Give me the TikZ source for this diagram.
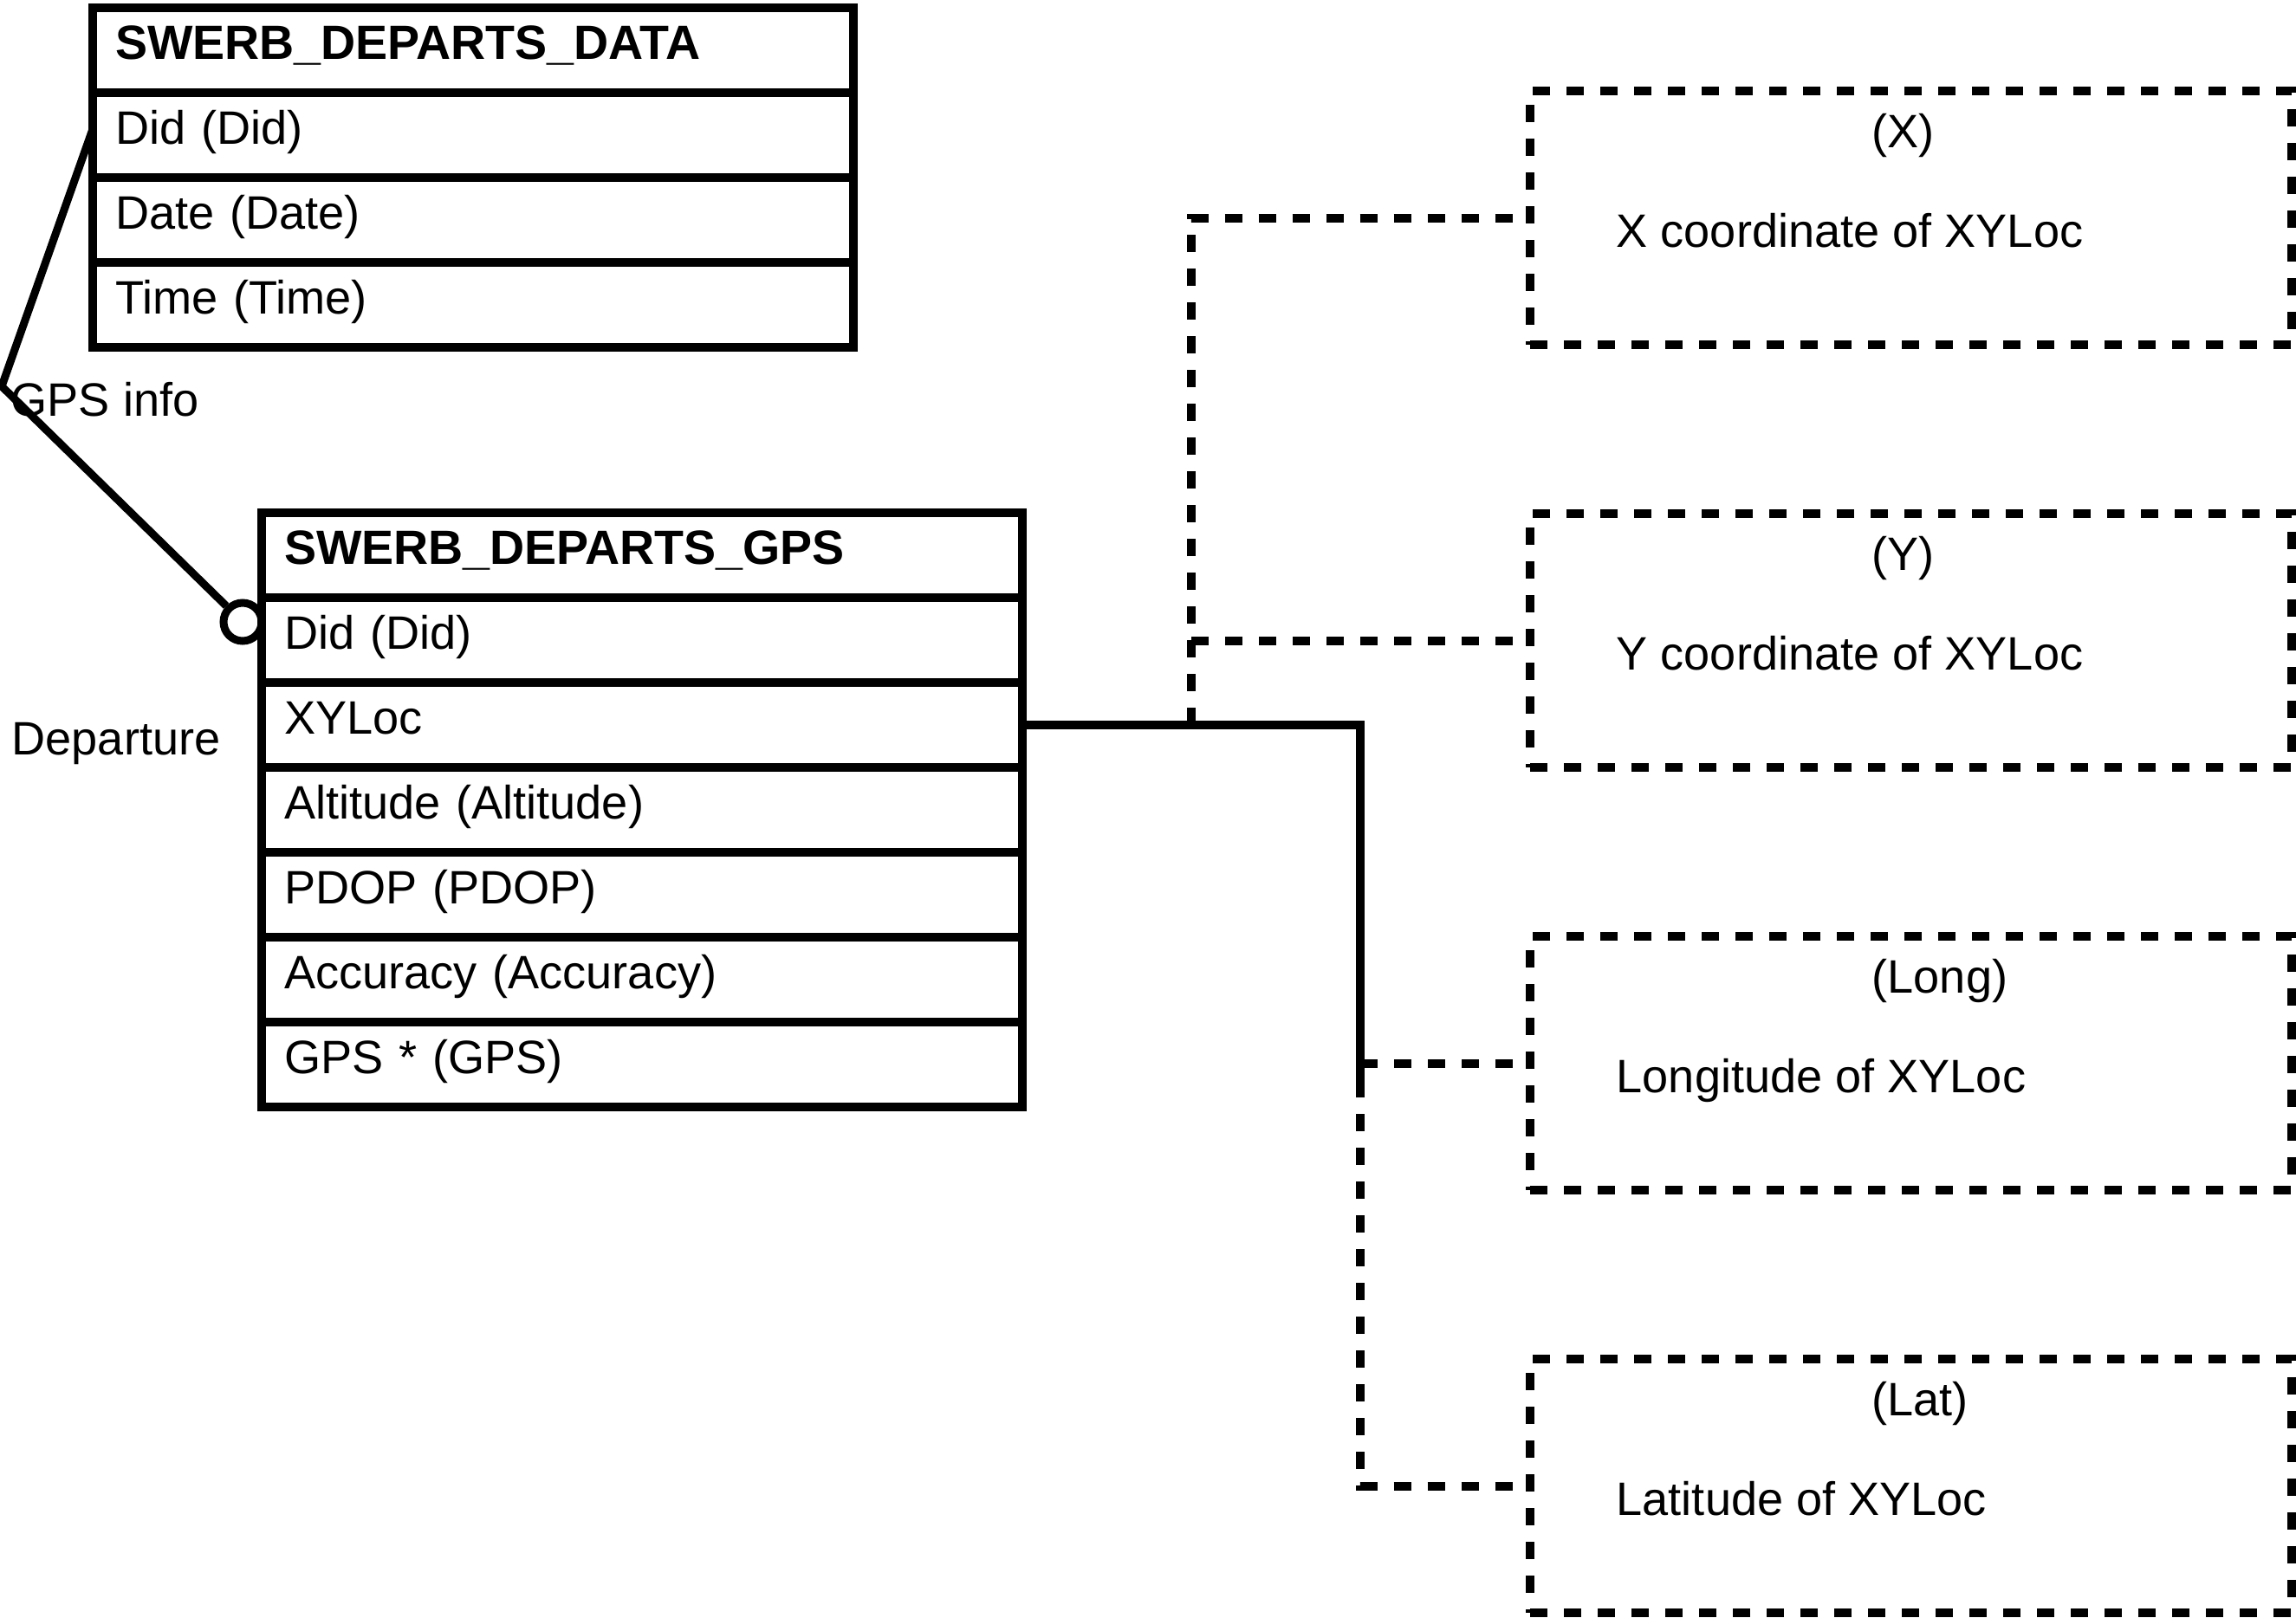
\documentclass[tikz,border=0pt]{standalone}
\usepackage{fontspec}
\setmainfont{Liberation Sans}
\usepackage{tikz}
\usetikzlibrary{positioning,calc}
\tikzstyle{line} = [draw,line width=1mm]
\tikzstyle{link} = [draw,line width=1mm,dash pattern=on 2mm off 1.9mm]

\begin{document}
\begin{tikzpicture}[auto,node distance=0pt,font=\fontsize{15.4}{18}\selectfont]
          \tikzstyle{field} = [draw, rectangle, line width=1mm, outer sep=0pt, inner xsep=2.6mm, text width=8.26cm, align=left, minimum height=9.8mm, text height=3.9mm, text depth=1.9mm]
          \tikzstyle{entity} = [field, font=\fontsize{15.8}{18}\selectfont\bfseries]
          \tikzstyle{derived} = [link, rectangle, outer sep=0pt, minimum width=8.79cm, minimum height=2.93cm]
          \tikzstyle{note} = [inner sep=0pt, anchor=base west]
          \useasboundingbox (0,0) rectangle (26.5,-18.67);
          % entity SWERB_DEPARTS_DATA
          \node[entity, anchor=north west] (dataHead) at (1.07,-0.09) {SWERB\_DEPARTS\_DATA};
          \node[field] (dataDid) [below=of dataHead] {Did (Did)};
          \node[field] (dataDate) [below=of dataDid] {Date (Date)};
          \node[field] (dataTime) [below=of dataDate] {Time (Time)};
          % entity SWERB_DEPARTS_GPS
          \node[entity, anchor=north west] (gpsHead) at (3.02,-5.92) {SWERB\_DEPARTS\_GPS};
          \node[field] (gpsDid) [below=of gpsHead] {Did (Did)};
          \node[field] (gpsXY) [below=of gpsDid] {XYLoc};
          \node[field] (gpsAlt) [below=of gpsXY] {Altitude (Altitude)};
          \node[field] (gpsPdop) [below=of gpsAlt] {PDOP (PDOP)};
          \node[field] (gpsAcc) [below=of gpsPdop] {Accuracy (Accuracy)};
          \node[field] (gpsGps) [below=of gpsAcc] {GPS * (GPS)};
          % relationship
          \node[circle, draw, line width=0.9mm, inner sep=0pt, minimum size=4.4mm] (zeroMark) at ($(gpsHead.south west)+(-0.22,-0.28)$) {};
          \coordinate (relBend) at (0.02,-4.46);
          \node[note] (relName) at (0.12,-4.80) {GPS info};
          \node[note] (relRole) at (0.13,-8.71) {Departure};
          \path [line, line width=0.9mm] ($(dataDid.west)+(0,0.07)$) -- (relBend) -- (zeroMark);
          % parts of XYLoc
          \node[derived, anchor=north west] (boxX) at (17.66,-1.05) {};
          \node[derived, node distance=1.95cm] (boxY) [below=of boxX] {};
          \node[derived, node distance=1.95cm] (boxLong) [below=of boxY] {};
          \node[derived, node distance=1.95cm] (boxLat) [below=of boxLong] {};
          \node[note] (titleX) at ($(boxX.north west)+(3.94,-0.65)$) {(X)};
          \node[note] (descX) at ($(boxX.north west)+(0.99,-1.80)$) {X coordinate of XYLoc};
          \node[note] (titleY) at ($(boxY.north west)+(3.94,-0.65)$) {(Y)};
          \node[note] (descY) at ($(boxY.north west)+(0.99,-1.80)$) {Y coordinate of XYLoc};
          \node[note] (titleLong) at ($(boxLong.north west)+(3.94,-0.65)$) {(Long)};
          \node[note] (descLong) at ($(boxLong.north west)+(0.99,-1.80)$) {Longitude of XYLoc};
          \node[note] (titleLat) at ($(boxLat.north west)+(3.94,-0.65)$) {(Lat)};
          \node[note] (descLat) at ($(boxLat.north west)+(0.99,-1.80)$) {Latitude of XYLoc};
          \coordinate (xyFork) at ($(gpsXY.east)+(1.95,0)$);
          \coordinate (xyJoin) at ($(gpsXY.east)+(3.90,0)$);
          \path [line] (gpsXY.east) -- (xyJoin) -- ++(0,-4.10) coordinate (solidEnd);
          \path [link] (xyFork) |- (boxX.west);
          \path [link] (xyFork |- boxY.west) -- (boxY.west);
          \path [link] (solidEnd) |- (boxLat.west);
          \path [link] (xyJoin |- boxLong.west) -- (boxLong.west);
        \end{tikzpicture}
\end{document}
